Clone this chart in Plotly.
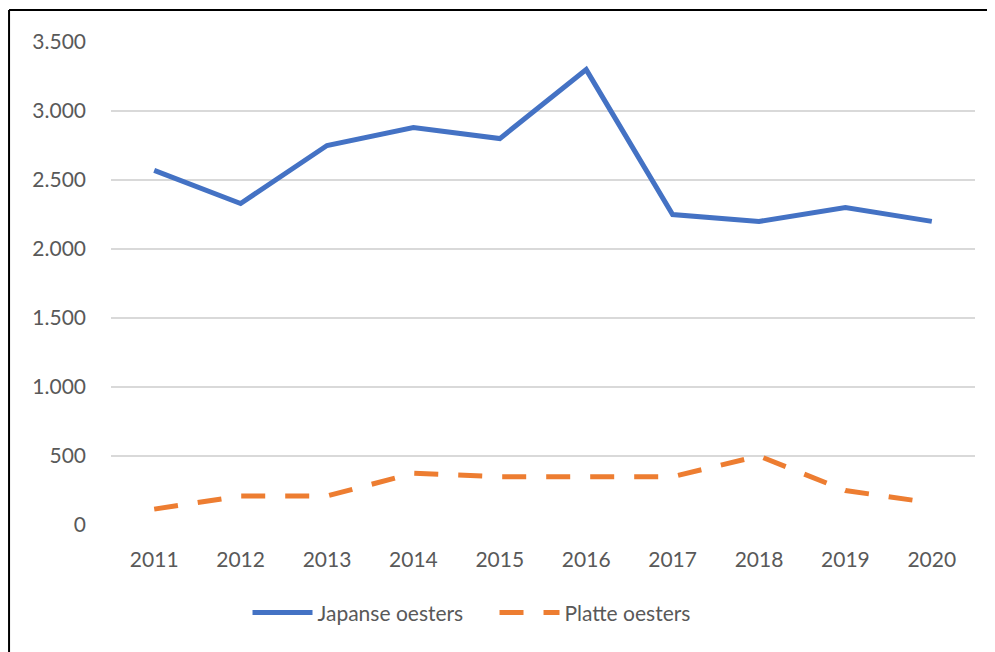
import plotly.graph_objects as go

jaren = ['2011', '2012', '2013', '2014', '2015', '2016', '2017', '2018', '2019', '2020']
japanse_oesters = [2570, 2330, 2750, 2880, 2800, 3300, 2250, 2200, 2300, 2200]
platte_oesters = [115, 210, 210, 375, 350, 350, 350, 500, 250, 160]
y_ticks = [0, 500, 1000, 1500, 2000, 2500, 3000, 3500]

FONT = "Lato"
GRIJS = "#595959"

fig = go.Figure()
fig.add_trace(go.Scatter(x=jaren, y=japanse_oesters, name='Japanse oesters', mode='lines',
                         line=dict(color='#4472C4', width=5)))
fig.add_trace(go.Scatter(x=jaren, y=platte_oesters, name='Platte oesters', mode='lines',
                         line=dict(color='#ED7D31', width=5, dash='24px,20px')))

fig.update_layout(
    width=995, height=652,
    margin=dict(l=103, r=28, t=34, b=135),
    paper_bgcolor='white', plot_bgcolor='white',
    separators=',.',
    font=dict(family=FONT, size=21, color=GRIJS),
    showlegend=True,
    legend=dict(orientation='h', x=0.158, xanchor='left', y=-0.182, yanchor='middle',
                font=dict(size=21, color=GRIJS), itemwidth=60,
                entrywidth=172, entrywidthmode='pixels'),
)
fig.update_xaxes(type='category', range=[-0.5, 9.5], showgrid=False, showline=False,
                 zeroline=False, ticks='', ticklabelstandoff=20)
fig.update_yaxes(range=[0, 3500], tickvals=y_ticks, tickformat=',', showgrid=True,
                 gridcolor='#D9D9D9', gridwidth=1.5, zeroline=False, showline=False,
                 ticks='', ticklabelstandoff=24)

# rand van het grafiekvak (alleen boven en links zichtbaar)
fig.add_shape(type='line', xref='paper', yref='paper', x0=-0.118, y0=-0.3, x1=-0.118, y1=1.0663,
              line=dict(color='black', width=2))
fig.add_shape(type='line', xref='paper', yref='paper', x0=-0.118, y0=1.0663, x1=1.1, y1=1.0663,
              line=dict(color='black', width=2))

fig.write_html("out.html")
